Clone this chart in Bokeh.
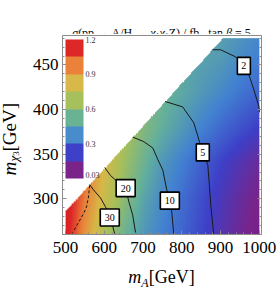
import numpy as np
from bokeh.plotting import figure
from bokeh.layouts import column, row
from bokeh.models import (ColorBar, LinearColorMapper, FixedTicker, Div,
                          SingleIntervalTicker, Range1d, LinearAxis)
from bokeh.core.properties import value
from bokeh.embed import file_html
from bokeh.resources import INLINE

# ---------------- data ----------------
MA_GRID = [500, 550, 600, 650, 700, 750, 800, 850, 900, 950, 1000]
MCHI3_GRID = [260, 300, 340, 380, 420, 460, 480]
SIGMA_M260 = [1.18, 0.92, 0.70, 0.55, 0.45, 0.37, 0.31, 0.24, 0.17, 0.10, 0.04]
SIGMA_M300 = [1.20, 0.98, 0.78, 0.62, 0.49, 0.40, 0.33, 0.26, 0.19, 0.12, 0.07]
SIGMA_M340 = [1.20, 1.00, 0.82, 0.66, 0.55, 0.44, 0.37, 0.30, 0.23, 0.17, 0.11]
SIGMA_M380 = [1.20, 1.00, 0.85, 0.70, 0.60, 0.52, 0.45, 0.38, 0.32, 0.27, 0.22]
SIGMA_M420 = [1.20, 1.00, 0.85, 0.70, 0.60, 0.55, 0.50, 0.45, 0.40, 0.35, 0.31]
SIGMA_M460 = [1.20, 1.00, 0.85, 0.70, 0.60, 0.55, 0.50, 0.48, 0.46, 0.41, 0.37]
SIGMA_M480 = [1.20, 1.00, 0.85, 0.70, 0.60, 0.55, 0.50, 0.48, 0.47, 0.43, 0.39]

# kinematic boundary (above it: no data)
BOUNDARY_MA = [500, 905]
BOUNDARY_MCHI3 = [286, 480]

# contour lines
C2_MA = [879, 900, 939, 960, 973, 986, 999, 1000]
C2_M = [467, 467, 459, 449, 439, 422, 403, 397]
C5_MA = [757, 802, 831, 844, 854, 867, 870, 875, 882]
C5_M = [409, 403, 385, 366, 352, 338, 321, 291, 261]
C10_MA = [674, 702, 725, 738, 751, 761, 769, 774, 779]
C10_M = [369, 364, 357, 344, 332, 310, 299, 285, 261]
C20_MA = [601, 616, 637, 655, 663, 673, 681]
C20_M = [335, 326, 318, 312, 297, 282, 261]
C30_MA = [562, 572, 590, 603, 616, 624, 627]
C30_M = [316, 310, 301, 291, 280, 265, 261]
CDASH_MA = [562, 559, 554, 547, 534, 526, 518]
CDASH_M = [315, 302, 291, 284, 274, 268, 261]

LABEL_TEXT = ["2", "5", "10", "20", "30"]
LABEL_MA = [960, 854, 769, 655, 614]
LABEL_M = [449, 352, 298, 312, 279]

LEGEND_TICKS = [0.03, 0.3, 0.6, 0.9, 1.2]
LEGEND_TICK_LABELS = ["0.03", "0.3", "0.6", "0.9", "1.2"]
LEGEND_COLORS = ["#7a248a", "#3e40c8", "#488ccc", "#6ab294", "#a6c05c",
                 "#d8b848", "#ea823a", "#dd2828"]

X_TICKS_INTERVAL = 100
Y_TICKS_INTERVAL = 50

SUB1 = "<sub style='font-size:8px;vertical-align:-2px'>1</sub>"
TITLE_HTML = ("<i>σ</i>(pp → A/H → <i>χ</i>" + SUB1 + "<i>χ</i>" + SUB1 +
              "Z) / fb,&nbsp; tan <i>β</i> = 5")
X_TITLE_HTML = "<i>m</i><sub style='font-size:12px;vertical-align:-4px'><i>A</i></sub>[GeV]"
Y_TITLE_HTML = ("<i>m</i><sub style='font-size:13px;vertical-align:-4px'><i>χ</i>"
                "<sub style='font-size:9px;vertical-align:-2px'>3</sub></sub>[GeV]")

# ---------------- colour map (style) ----------------
STOP_T = [0.0, 0.0625, 0.1875, 0.3125, 0.4375, 0.5625, 0.6875, 0.8125, 0.9375, 1.0]
STOP_RGB = [(112, 28, 142), (122, 36, 138), (62, 64, 200), (66, 130, 210),
            (100, 176, 156), (166, 192, 92), (216, 184, 72), (234, 130, 58),
            (221, 40, 40), (216, 30, 34)]
VMAX = 1.2

# ---------------- build the density image ----------------
grid = np.array([SIGMA_M260, SIGMA_M300, SIGMA_M340, SIGMA_M380,
                 SIGMA_M420, SIGMA_M460, SIGMA_M480])
NX, NY = 420, 300
xs = np.linspace(MA_GRID[0], MA_GRID[-1], NX)
ys = np.linspace(MCHI3_GRID[0], MCHI3_GRID[-1], NY)
rows = np.array([np.interp(xs, MA_GRID, r) for r in grid])
field = np.array([np.interp(ys, MCHI3_GRID, rows[:, i]) for i in range(NX)]).T
t = np.clip(field / VMAX, 0, 1)
rgb = np.array(STOP_RGB, dtype=float)
img = np.zeros((NY, NX), dtype=np.uint32)
view = img.view(dtype=np.uint8).reshape((NY, NX, 4))
for k in range(3):
    view[:, :, k] = np.interp(t, STOP_T, rgb[:, k]).astype(np.uint8)
bound = np.interp(xs, BOUNDARY_MA, BOUNDARY_MCHI3,
                  left=BOUNDARY_MCHI3[0], right=1e9)
mask = ys[:, None] <= bound[None, :]
view[:, :, 3] = np.where(mask, 255, 0).astype(np.uint8)

# ---------------- figure ----------------
SERIF = "Liberation Serif"
GRAY = "#8c8c8c"
p = figure(width=255, height=226,
           min_border_left=38, min_border_right=18,
           min_border_top=2, min_border_bottom=25,
           x_range=Range1d(492, 1005.5), y_range=Range1d(260, 483),
           output_backend="svg", toolbar_location=None)
p.xgrid.visible = False
p.ygrid.visible = False
p.outline_line_color = GRAY
p.background_fill_color = "white"

p.image_rgba(image=[img], x=MA_GRID[0], y=MCHI3_GRID[0],
             dw=MA_GRID[-1] - MA_GRID[0], dh=MCHI3_GRID[-1] - MCHI3_GRID[0])

for cx, cy in [(C2_MA, C2_M), (C5_MA, C5_M), (C10_MA, C10_M),
               (C20_MA, C20_M), (C30_MA, C30_M)]:
    p.line(cx, cy, line_color="#1a1a1a", line_width=1)
p.line(CDASH_MA, CDASH_M, line_color="#1a1a1a", line_width=1, line_dash="3 2")

box_w = [7 + 6 * len(s) for s in LABEL_TEXT]
p.rect(x=LABEL_MA, y=LABEL_M, width=box_w, height=17,
       width_units="screen", height_units="screen",
       fill_color="white", line_color="black", line_width=1.6)
p.text(x=LABEL_MA, y=LABEL_M, text=LABEL_TEXT, text_align="center",
       text_baseline="middle", text_font=value(SERIF), text_font_size="10px",
       text_color="black")

# mirror axis (ticks only) on the right
p.add_layout(LinearAxis(), "right")

for ax in p.xaxis + p.yaxis:
    ax.axis_line_color = GRAY
    ax.major_tick_line_color = GRAY
    ax.minor_tick_line_color = GRAY
    ax.major_tick_in = 4
    ax.major_tick_out = 0
    ax.minor_tick_in = 2
    ax.minor_tick_out = 0
    ax.major_label_text_font = SERIF
    ax.major_label_text_font_size = "17px"
    ax.major_label_text_color = "black"
    ax.major_label_standoff = 4
for ax in p.xaxis:
    ax.ticker = SingleIntervalTicker(interval=X_TICKS_INTERVAL, num_minor_ticks=5)
for ax in p.yaxis:
    ax.ticker = SingleIntervalTicker(interval=Y_TICKS_INTERVAL, num_minor_ticks=5)
p.below[0].major_label_standoff = 7
rax = p.right[-1]
rax.major_label_text_font_size = "1px"
rax.major_label_text_color = None
rax.major_label_standoff = 0
rax.axis_label_standoff = 0

# legend colour bar
mapper = LinearColorMapper(palette=LEGEND_COLORS, low=0, high=1.2)
cb = ColorBar(color_mapper=mapper, ticker=FixedTicker(ticks=LEGEND_TICKS),
              major_label_overrides=dict(zip(LEGEND_TICKS, LEGEND_TICK_LABELS)),
              width=18, height=139, location=(3, 56), padding=0, margin=0,
              background_fill_alpha=0, bar_line_color=None, border_line_color=None,
              major_tick_line_color=None, minor_tick_line_color=None,
              label_standoff=2, major_label_text_font=SERIF,
              major_label_text_font_size="8px", major_label_text_color="#333333")
p.add_layout(cb)

# title and axis titles (HTML, with italics and subscripts)
tdiv = Div(width=279, height=33, margin=0, text=(
    "<div style=\"margin-left:62px;width:199px;text-align:center;padding-top:21px;"
    "transform:translateY(6px);"
    "white-space:nowrap;font-family:'Liberation Serif';font-size:12px;"
    "line-height:12px;color:black;\">" + TITLE_HTML + "</div>"))
ylab = Div(width=24, height=226, margin=0, text=(
    "<div style=\"width:24px;height:226px;display:flex;align-items:center;"
    "justify-content:center;\"><div style=\"writing-mode:vertical-rl;"
    "transform:translate(1px,-7px) rotate(180deg);"
    "white-space:nowrap;font-family:'Liberation Serif';font-size:19px;line-height:19px;"
    "color:black;\">" + Y_TITLE_HTML + "</div></div>"))
xlab = Div(width=279, height=30, margin=0, text=(
    "<div style=\"margin-left:62px;width:199px;text-align:center;padding-top:9px;"
    "white-space:nowrap;font-family:'Liberation Serif';font-size:18px;"
    "line-height:18px;color:black;\">" + X_TITLE_HTML + "</div>"))

layout = column(tdiv, row(ylab, p, spacing=0), xlab, spacing=0)
with open("out.html", "w", encoding="utf-8") as f:
    f.write(file_html(layout, INLINE))
